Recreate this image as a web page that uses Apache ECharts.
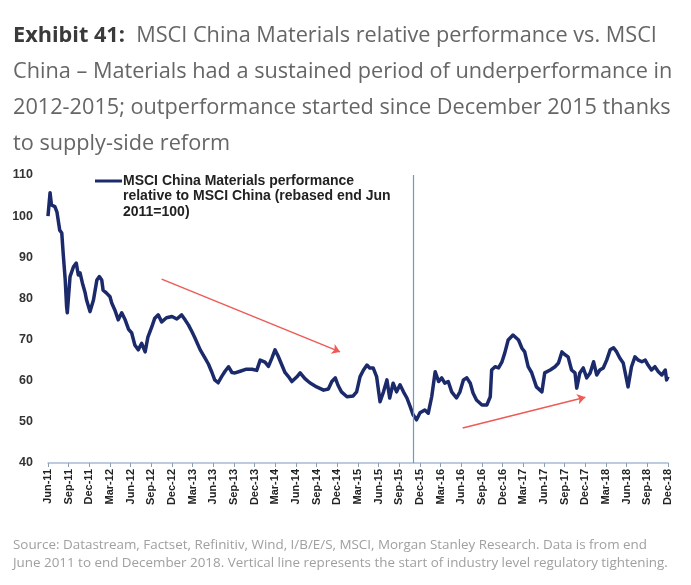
<!DOCTYPE html>
<html>
<head>
<meta charset="utf-8">
<script src="https://cdn.jsdelivr.net/npm/echarts@6/dist/echarts.min.js"></script>
<style>
  html, body {margin: 0; padding: 0; background: #fff;}
  #chart {width: 691px; height: 585px;}
</style>
</head>
<body>
<div id="chart"></div>
<script>
  // x axis tick labels, one per quarter end
  const quarterLabels = ['Jun-11', 'Sep-11', 'Dec-11', 'Mar-12', 'Jun-12', 'Sep-12', 'Dec-12', 'Mar-13',
    'Jun-13', 'Sep-13', 'Dec-13', 'Mar-14', 'Jun-14', 'Sep-14', 'Dec-14', 'Mar-15', 'Jun-15', 'Sep-15',
    'Dec-15', 'Mar-16', 'Jun-16', 'Sep-16', 'Dec-16', 'Mar-17', 'Jun-17', 'Sep-17', 'Dec-17', 'Mar-18',
    'Jun-18', 'Sep-18', 'Dec-18']

  // months since end Jun 2011
  const months = [0, 0.3, 0.5, 1.0, 1.3, 1.5, 1.7, 2.0, 2.2, 2.5, 2.7, 2.8, 3.2, 3.7, 4.1, 4.4, 4.65, 5.0,
    5.4, 5.6, 6.1, 6.6, 7.1, 7.45, 7.8, 8.0, 8.5, 9.0, 9.25, 9.7, 10.2, 10.7, 11.2, 11.7, 12.15, 12.6,
    13.1, 13.6, 14.1, 14.5, 15.05, 15.5, 16.0, 16.5, 17.2, 18.0, 18.7, 19.4, 19.9, 20.4, 20.9, 21.3,
    22.1, 22.8, 23.3, 23.8, 24.2, 24.7, 25.2, 25.7, 26.2, 26.7, 27.15, 27.9, 28.8, 29.6, 30.3, 30.8,
    31.5, 32.0, 32.5, 32.95, 33.4, 33.9, 34.4, 34.9, 35.4, 36.1, 36.6, 37.3, 38.0, 39.0, 40.0, 40.7,
    41.2, 41.7, 42.1, 42.6, 43.4, 44.3, 44.8, 45.3, 45.8, 46.3, 46.7, 47.2, 47.7, 48.2, 48.7, 49.2,
    49.6, 50.1, 50.6, 51.1, 51.6, 52.1, 52.55, 53.0, 53.5, 54.0, 54.7, 55.2, 55.7, 56.2, 56.7, 57.15,
    57.6, 58.1, 58.6, 59.3, 59.8, 60.3, 60.8, 61.3, 61.7, 62.2, 63.0, 63.7, 64.2, 64.4, 64.9, 65.4,
    65.9, 66.3, 66.8, 67.5, 68.3, 68.8, 69.2, 69.7, 70.2, 70.9, 71.7, 72.1, 72.9, 73.6, 74.1, 74.6,
    75.05, 75.5, 76.0, 76.5, 76.75, 77.2, 77.7, 78.2, 78.7, 79.2, 79.65, 80.1, 80.6, 81.1, 81.6, 82.1,
    82.55, 83.0, 83.5, 84.0, 84.2, 84.7, 85.2, 85.7, 86.2, 86.7, 87.1, 87.6, 88.1, 88.6, 89.1, 89.6,
    89.8, 90]

  // MSCI China Materials relative to MSCI China (rebased end Jun 2011 = 100)
  const relPerf = [100, 105.7, 102.7, 102.3, 101, 100.8, 96.6, 95.9, 91, 84.5, 78, 76.5, 85.3, 87.7, 88.6,
    85.7, 86.2, 83.7, 81.3, 79.6, 76.8, 79.6, 84.5, 85.3, 84.5, 82, 81.3, 80.4, 78.9, 77.2, 74.8, 76.5,
    74.8, 72.5, 71.6, 68.7, 67.5, 69.1, 67, 70.6, 73, 75.2, 76, 74.3, 75.3, 75.6, 75, 76, 74.8, 73.5,
    71.9, 70.5, 67.5, 65.5, 64, 62, 60.2, 59.5, 61, 62.3, 63.4, 62, 61.9, 62.3, 62.8, 62.8, 62.5, 65,
    64.5, 63.5, 65.5, 67.5, 66, 64, 62, 61, 59.8, 60.9, 61.9, 60.5, 59.5, 58.5, 57.7, 58, 59.8, 60.7,
    58.9, 57.3, 56.1, 56.3, 57.3, 61, 62.6, 63.8, 63.1, 63.1, 61, 54.9, 57.3, 60.2, 55.8, 59.4, 57.3,
    59, 57.3, 55.8, 53.8, 51.7, 50.5, 52.2, 52.9, 52.1, 56.1, 62.2, 59.8, 60.7, 59.4, 59.8, 57.3,
    55.8, 57.3, 60.2, 60.7, 59.4, 57, 55.3, 54.1, 54.1, 56.1, 62.6, 63.4, 63.1, 64.6, 66.7, 69.9,
    71.1, 69.9, 67.9, 67, 63.4, 62, 58.5, 57.3, 61.9, 62.6, 63.4, 64.3, 67, 66.3, 65.8, 62.6, 61.9,
    58.2, 61.9, 63.1, 60.7, 61.9, 64.6, 61.4, 62.6, 63.1, 65, 67.5, 68, 67, 65.5, 64.3, 60.2, 58.5,
    63.4, 65.8, 65, 64.6, 65, 63.8, 62.6, 63.4, 62.2, 61.4, 62.6, 60.2, 61]

  // start of industry level regulatory tightening (months since end Jun 2011)
  const tighteningStart = 53

  // trend arrows: [[startMonth, startValue], [endMonth, endValue]]
  const trendArrows = [
    [[16.5, 84.7], [42.4, 67]],
    [[60.2, 48.5], [78, 56]]
  ]

  const chart = echarts.init(document.getElementById('chart'))

  const lineData = months.map((m, i) => [m, relPerf[i]])

  const option = {
    animation: false,
    title: [
      {
        left: 8,
        top: 13,
        text: '{b|Exhibit 41:}  MSCI China Materials relative performance vs. MSCI\n' +
          'China – Materials had a sustained period of underperformance in\n' +
          '2012-2015; outperformance started since December 2015 thanks\n' +
          'to supply-side reform',
        textStyle: {
          fontFamily: 'Open Sans',
          fontSize: 21.7,
          fontWeight: 'normal',
          color: '#666',
          lineHeight: 36,
          rich: {
            b: {fontFamily: 'Open Sans', fontSize: 21.7, fontWeight: 'bold', color: '#3a3a3a', lineHeight: 36}
          }
        }
      },
      {
        left: 8,
        top: 531,
        text: 'Source: Datastream, Factset, Refinitiv, Wind, I/B/E/S, MSCI, Morgan Stanley Research. Data is from end\n' +
          'June 2011 to end December 2018. Vertical line represents the start of industry level regulatory tightening.',
        textStyle: {
          fontFamily: 'Open Sans',
          fontSize: 13.4,
          fontWeight: 'normal',
          color: '#a0a0a0',
          lineHeight: 18
        }
      }
    ],
    graphic: [
      {
        type: 'line',
        shape: {x1: 95, y1: 181, x2: 122, y2: 181},
        style: {stroke: '#1b2a6b', lineWidth: 3}
      },
      {
        type: 'text',
        left: 123,
        top: 173,
        style: {
          text: 'MSCI China Materials performance\nrelative to MSCI China (rebased end Jun\n2011=100)',
          font: 'bold 14px Arial',
          fill: '#222',
          lineHeight: 15.5
        }
      }
    ],
    grid: {left: 48, right: 23, top: 175, bottom: 122},
    xAxis: {
      type: 'value',
      min: 0,
      max: 90,
      interval: 3,
      axisLine: {lineStyle: {color: '#a8bbd3', width: 1.5}},
      axisTick: {length: 4, lineStyle: {color: '#8c9db5'}},
      splitLine: {show: false},
      axisLabel: {
        rotate: 90,
        margin: 6,
        fontFamily: 'Arial',
        fontSize: 11,
        fontWeight: 'bold',
        color: '#222',
        formatter: function (val) {
          return quarterLabels[Math.round(val / 3)]
        }
      }
    },
    yAxis: {
      type: 'value',
      min: 40,
      max: 110,
      interval: 10,
      axisLine: {show: false},
      axisTick: {show: false},
      splitLine: {show: false},
      axisLabel: {
        margin: 15,
        fontFamily: 'Arial',
        fontSize: 12.5,
        fontWeight: 'bold',
        color: '#333'
      }
    },
    series: [
      {
        name: 'MSCI China Materials performance relative to MSCI China (rebased end Jun 2011=100)',
        type: 'line',
        data: lineData,
        showSymbol: false,
        lineStyle: {color: '#1b2a6b', width: 3.5, join: 'round'},
        markLine: {
          silent: true,
          symbol: 'none',
          label: {show: false},
          lineStyle: {color: '#6a9ad0', width: 1.2, type: 'solid'},
          data: [{xAxis: tighteningStart}]
        }
      },
      {
        // red trend arrows
        type: 'line',
        data: [],
        markLine: {
          silent: true,
          symbol: ['none', 'arrow'],
          symbolSize: 8,
          label: {show: false},
          lineStyle: {color: '#ec5b55', width: 1.5, type: 'solid'},
          data: trendArrows.map(a => [{coord: a[0]}, {coord: a[1]}])
        }
      }
    ]
  }
  chart.setOption(option)
</script>
</body>
</html>
